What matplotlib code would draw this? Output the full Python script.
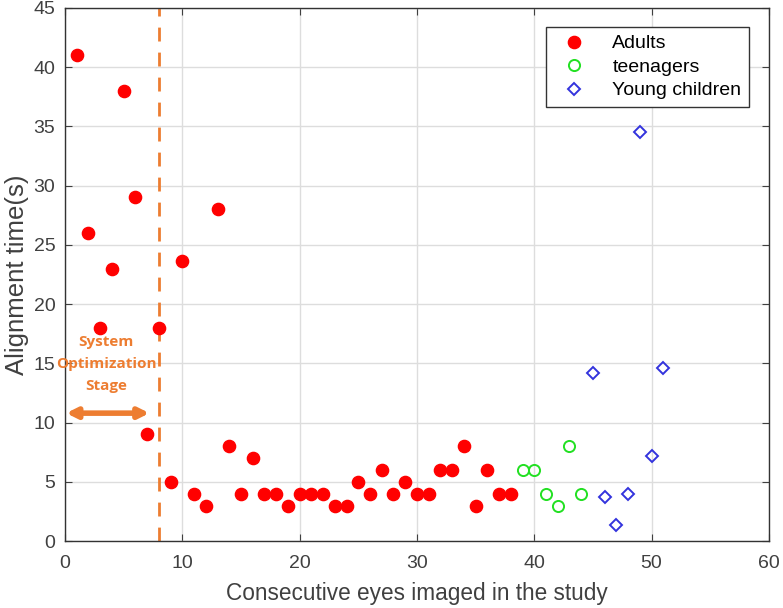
import numpy as np
import matplotlib.pyplot as plt

plt.rcParams['font.family'] = ['Liberation Sans', 'DejaVu Sans']

# adults
adult_x = list(range(1, 39))
adult_y = [41, 26, 18, 23, 38, 29, 9, 18, 5, 23.6,
           4, 3, 28, 8, 4, 7, 4, 4, 3, 4,
           4, 4, 3, 3, 5, 4, 6, 4, 5, 4,
           4, 6, 6, 8, 3, 6, 4, 4]
# teenagers
teen_x = [39, 40, 41, 42, 43, 44]
teen_y = [6, 6, 4, 3, 8, 4]
# young children
child_x = [45, 46, 47, 48, 49, 50, 51]
child_y = [14.2, 3.7, 1.4, 4, 34.5, 7.2, 14.6]

orange = '#ED7D31'
grey = '#404040'

fig = plt.figure(figsize=(7.83, 6.08), dpi=100)
ax = fig.add_axes([0.083, 0.110, 0.899, 0.877])

ax.plot(adult_x, adult_y, 'o', color='red', markersize=8.8, label='Adults', zorder=3)
ax.plot(teen_x, teen_y, 'o', mfc='none', mec='#22e022', markersize=8, mew=1.4,
        label='teenagers', zorder=3)
ax.plot(child_x, child_y, 'D', mfc='none', mec='#3333dd', markersize=6, mew=1.4,
        label='Young children', zorder=3)

ax.axvline(8, color=orange, linestyle=(0, (5, 4)), linewidth=2, zorder=2)
ax.annotate('', xy=(0.1, 10.8), xytext=(7.2, 10.8),
            arrowprops=dict(arrowstyle='<|-|>', color=orange, lw=4,
                            mutation_scale=15, shrinkA=0, shrinkB=0))
ax.text(3.5, 14.95, 'System\nOptimization\nStage', color=orange, fontweight='bold',
        fontsize=11, ha='center', va='center', linespacing=1.7,
        family=['Open Sans', 'DejaVu Sans'])

ax.set_xlim(0, 60)
ax.set_ylim(0, 45)
ax.set_xticks(np.arange(0, 61, 10))
ax.set_yticks(np.arange(0, 46, 5))
ax.grid(True, color='#dddddd', linewidth=1)
ax.set_axisbelow(True)
ax.tick_params(direction='in', top=True, right=True, labelsize=14,
               labelcolor=grey, color=grey, length=5)
ax.tick_params(axis='x', pad=10)
ax.tick_params(axis='y', pad=7)
for s in ax.spines.values():
    s.set_color('#333333')
    s.set_linewidth(1)

ax.set_xlabel('Consecutive eyes imaged in the study', fontsize=16.3, color=grey,
              labelpad=7)
ax.set_ylabel('Alignment time(s)', fontsize=18.5, color=grey, labelpad=3)

leg = ax.legend(loc='upper right', bbox_to_anchor=(0.972, 0.964), fontsize=14,
                fancybox=False, edgecolor='#333333', framealpha=1, borderpad=0.4,
                handletextpad=1.0, labelspacing=0.3, borderaxespad=0)
leg.get_frame().set_linewidth(1)

fig.savefig('out.png', dpi=100)
